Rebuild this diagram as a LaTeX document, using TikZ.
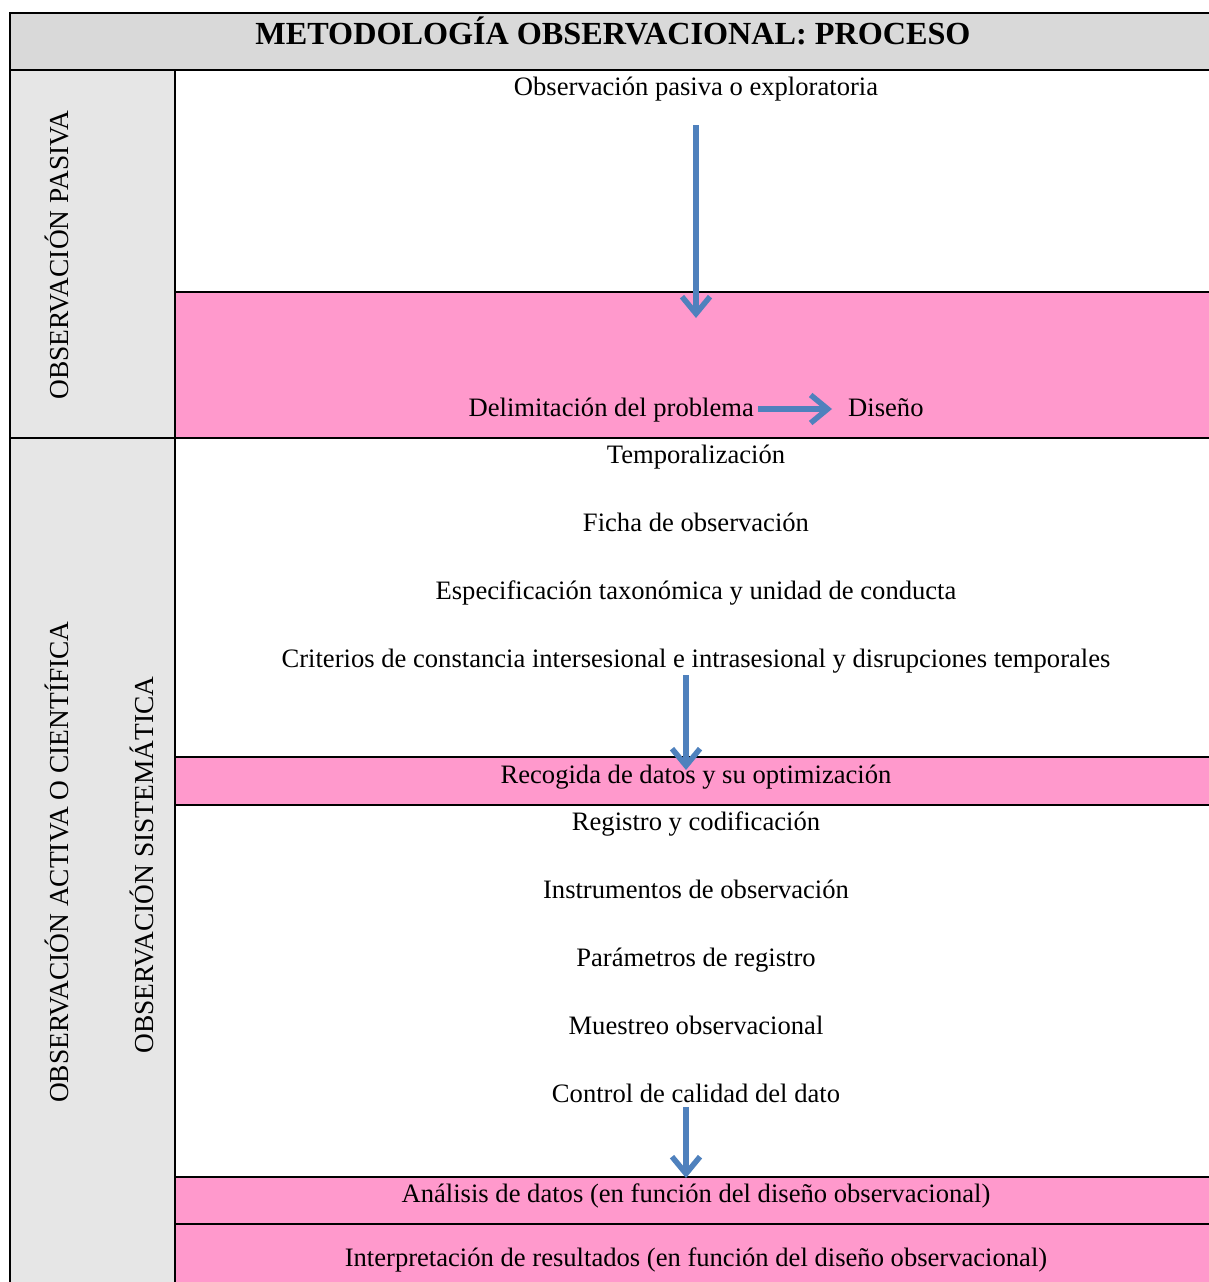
\documentclass[tikz,border=0pt]{standalone}
\usepackage{fontspec}
\setmainfont{Liberation Serif}
\usetikzlibrary{arrows.meta}
\definecolor{hdr}{HTML}{D9D9D9}
\definecolor{side}{HTML}{E6E6E6}
\definecolor{pinkf}{HTML}{FF99CC}
\definecolor{arrowblue}{HTML}{4F81BD}
\tikzset{
 txt/.style={anchor=base, inner sep=0pt, font=\fontsize{26.6}{30}\selectfont},
 vtxt/.style={rotate=90, inner sep=0pt, font=\fontsize{27.4}{30}\selectfont},
 gridline/.style={line width=2.6pt, line cap=rect},
 flow/.style={draw=arrowblue, line width=5.5pt, -{Straight Barb[length=17pt,width=28pt,line width=5.5pt]}}
}
\begin{document}
\begin{tikzpicture}[x=1pt,y=-1pt]
\clip (0,0) rectangle (1209,1282);
\fill[white] (0,0) rectangle (1209,1282);
% fills
\fill[hdr] (10,13) rectangle (1220,70);
\fill[side] (10,70) rectangle (175,1300);
\fill[pinkf] (175,292) rectangle (1220,438);
\fill[pinkf] (175,757) rectangle (1220,805);
\fill[pinkf] (175,1177) rectangle (1220,1300);
% grid
\draw[gridline] (1220,13) -- (10,13) -- (10,1300);
\draw[gridline] (10,70) -- (1220,70);
\draw[gridline] (10,438) -- (1220,438);
\draw[gridline] (175,70) -- (175,1300);
\foreach \yy in {292,757,805,1177,1224} \draw[gridline] (175,\yy) -- (1220,\yy);
% title
\node[txt, font=\bfseries\fontsize{32.2}{36}\selectfont] (title) at (613,44) {METODOLOGÍA OBSERVACIONAL: PROCESO};
% side labels
\node[vtxt] (pasiva) at (57,255) {OBSERVACIÓN PASIVA};
\node[vtxt] (activa) at (57,862) {OBSERVACIÓN ACTIVA O CIENTÍFICA};
\node[vtxt] (sistematica) at (142,865) {OBSERVACIÓN SISTEMÁTICA};
% contents
\node[txt] (obs) at (696,95) {Observación pasiva o exploratoria};
\node[txt, anchor=base east] (delim) at (754,416) {Delimitación del problema};
\node[txt, anchor=base west] (diseno) at (848,416) {Diseño};
\node[txt] (temp) at (696,463) {Temporalización};
\node[txt] (ficha) at (696,531) {Ficha de observación};
\node[txt] (espec) at (696,599) {Especificación taxonómica y unidad de conducta};
\node[txt] (crit) at (696,667) {Criterios de constancia intersesional e intrasesional y disrupciones temporales};
\node[txt] (recog) at (696,783) {Recogida de datos y su optimización};
\node[txt] (regis) at (696,830) {Registro y codificación};
\node[txt] (instr) at (696,898) {Instrumentos de observación};
\node[txt] (param) at (696,966) {Parámetros de registro};
\node[txt] (muest) at (696,1034) {Muestreo observacional};
\node[txt] (control) at (696,1102) {Control de calidad del dato};
\node[txt] (anal) at (696,1202) {Análisis de datos (en función del diseño observacional)};
\node[txt] (interp) at (696,1266) {Interpretación de resultados (en función del diseño observacional)};
% arrows
\coordinate (a1s) at (696,125);
\coordinate (a1e) at (696,318);
\draw[flow] (a1s) -- (a1e);
\draw[flow] ([shift={(4,-7)}]delim.base east) -- ([shift={(-16,-7)}]diseno.base west);
\coordinate (a3s) at (686,675);
\coordinate (a3e) at (686,770);
\draw[flow] (a3s) -- (a3e);
\coordinate (a4s) at (686,1107);
\coordinate (a4e) at (686,1178);
\draw[flow] (a4s) -- (a4e);
\end{tikzpicture}
\end{document}
